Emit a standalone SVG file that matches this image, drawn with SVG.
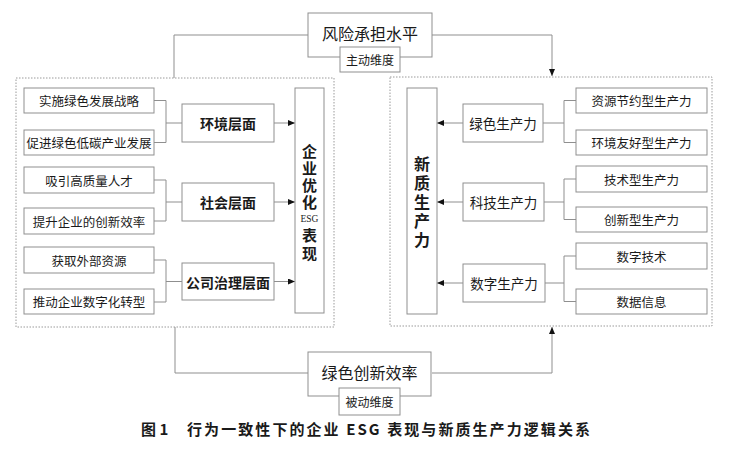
<svg xmlns="http://www.w3.org/2000/svg" width="730" height="460" viewBox="0 0 730 460">
<defs>
<style>
.box{fill:#fff;stroke:#8f8f8f;stroke-width:1}
.cont{fill:none;stroke:#9a9a9a;stroke-width:1;stroke-dasharray:1.5 1.5}
.ln{fill:none;stroke:#8f8f8f;stroke-width:1}
.t{font-family:"Noto Sans CJK SC","Liberation Sans",sans-serif;fill:#1a1a1a;text-anchor:middle;dominant-baseline:central}
.s{font-size:12.5px}
.m{font-size:13.5px}
.b{font-size:14px;font-weight:bold}
.big{font-size:16px}
.vt{font-family:"Noto Sans CJK SC","Liberation Sans",sans-serif;fill:#1a1a1a;font-weight:bold;writing-mode:vertical-rl;text-anchor:start;dominant-baseline:central}
.esg{font-family:"Liberation Serif",serif;font-size:9.5px;fill:#1a1a1a;text-anchor:middle;dominant-baseline:central}
.cap{font-family:"Noto Sans CJK SC","Liberation Sans",sans-serif;font-size:15px;font-weight:bold;fill:#1a1a1a}
</style>
<marker id="ah" markerWidth="7" markerHeight="6" refX="7" refY="3" orient="auto" markerUnits="userSpaceOnUse">
<path d="M0,0 L7,3 L0,6 Z" fill="#111"/>
</marker>
</defs>
<rect width="730" height="460" fill="#fff"/>

<g id="containers">
<rect class="cont" x="16" y="78" width="318" height="249"/>
<rect class="cont" x="390" y="77" width="322" height="249"/>
</g>

<g id="connectors">
<polyline class="ln" points="308,35 174,35 174,78"/>
<polyline class="ln" points="432,35 552,35 552,76" marker-end="url(#ah)"/>
<polyline class="ln" points="175,327 175,373 308,373"/>
<polyline class="ln" points="432,373 552,373 552,327" marker-end="url(#ah)"/>
<polyline class="ln" points="154,100.5 166,100.5 166,142.5 154,142.5"/>
<line class="ln" x1="166" y1="123" x2="182" y2="123"/>
<polyline class="ln" points="154,180 166,180 166,221 154,221"/>
<line class="ln" x1="166" y1="202" x2="182" y2="202"/>
<polyline class="ln" points="154,260 166,260 166,302 154,302"/>
<line class="ln" x1="166" y1="281.5" x2="182" y2="281.5"/>
<line class="ln" x1="274" y1="123" x2="295" y2="123" marker-end="url(#ah)"/>
<line class="ln" x1="274" y1="202" x2="295" y2="202" marker-end="url(#ah)"/>
<line class="ln" x1="274" y1="281.5" x2="295" y2="281.5" marker-end="url(#ah)"/>
<polyline class="ln" points="576,100.5 564,100.5 564,142.5 576,142.5"/>
<line class="ln" x1="543" y1="123" x2="564" y2="123"/>
<polyline class="ln" points="576,179 564,179 564,219.5 576,219.5"/>
<line class="ln" x1="543" y1="202" x2="564" y2="202"/>
<polyline class="ln" points="576,256 564,256 564,301.5 576,301.5"/>
<line class="ln" x1="543" y1="283" x2="564" y2="283"/>
<line class="ln" x1="463" y1="123" x2="437" y2="123" marker-end="url(#ah)"/>
<line class="ln" x1="463" y1="202" x2="437" y2="202" marker-end="url(#ah)"/>
<line class="ln" x1="463" y1="283" x2="437" y2="283" marker-end="url(#ah)"/>
</g>

<g id="risk">
<rect class="box" x="308" y="13" width="124" height="44"/>
<text class="t big" x="370" y="33">风险承担水平</text>
<rect class="box" x="340" y="47" width="60" height="25"/>
<text class="t" style="font-size:12px" x="370" y="59.5">主动维度</text>
</g>

<g id="green-innov">
<rect class="box" x="308" y="352" width="123" height="44"/>
<text class="t big" x="369.5" y="372">绿色创新效率</text>
<rect class="box" x="339" y="388" width="61" height="27"/>
<text class="t" style="font-size:12px" x="369.5" y="401.5">被动维度</text>
</g>

<g id="l1"><rect class="box" x="24" y="88" width="130" height="25"/><text class="t s" x="89" y="100.5">实施绿色发展战略</text></g>
<g id="l2"><rect class="box" x="24" y="130" width="130" height="25"/><text class="t s" x="89" y="142.5">促进绿色低碳产业发展</text></g>
<g id="l3"><rect class="box" x="24" y="167" width="130" height="26"/><text class="t s" x="89" y="180">吸引高质量人才</text></g>
<g id="l4"><rect class="box" x="24" y="208" width="130" height="26"/><text class="t s" x="89" y="221">提升企业的创新效率</text></g>
<g id="l5"><rect class="box" x="24" y="247" width="130" height="26"/><text class="t s" x="89" y="260">获取外部资源</text></g>
<g id="l6"><rect class="box" x="24" y="289" width="130" height="25"/><text class="t s" x="89" y="301.5">推动企业数字化转型</text></g>

<g id="env"><rect class="box" x="182" y="104" width="92" height="38"/><text class="t b" x="228" y="123">环境层面</text></g>
<g id="soc"><rect class="box" x="182" y="183" width="92" height="38"/><text class="t b" x="228" y="202">社会层面</text></g>
<g id="gov"><rect class="box" x="182" y="263" width="92" height="37"/><text class="t b" x="228" y="281.5">公司治理层面</text></g>

<g id="esg">
<rect class="box" x="295" y="88" width="29" height="225"/>
<text class="vt" x="309.5" y="143.5" style="font-size:15px;letter-spacing:2px">企业优化</text>
<text class="esg" x="309.5" y="218.5">ESG</text>
<text class="vt" x="309.5" y="227.5" style="font-size:15px;letter-spacing:3px">表现</text>
</g>

<g id="nqp">
<rect class="box" x="407" y="88" width="30" height="226"/>
<text class="vt" x="422" y="156" style="font-size:16px;letter-spacing:3px">新质生产力</text>
</g>

<g id="gp"><rect class="box" x="463" y="104" width="80" height="38"/><text class="t m" x="503" y="123">绿色生产力</text></g>
<g id="tp"><rect class="box" x="463" y="183" width="81" height="38"/><text class="t m" x="503.5" y="202">科技生产力</text></g>
<g id="dp"><rect class="box" x="463" y="264" width="82" height="38"/><text class="t m" x="504" y="283">数字生产力</text></g>

<g id="r1"><rect class="box" x="576" y="88" width="131" height="25"/><text class="t s" x="641.5" y="100.5">资源节约型生产力</text></g>
<g id="r2"><rect class="box" x="576" y="130" width="131" height="25"/><text class="t s" x="641.5" y="142.5">环境友好型生产力</text></g>
<g id="r3"><rect class="box" x="576" y="166" width="131" height="26"/><text class="t s" x="641.5" y="179">技术型生产力</text></g>
<g id="r4"><rect class="box" x="576" y="207" width="131" height="25"/><text class="t s" x="641.5" y="219.5">创新型生产力</text></g>
<g id="r5"><rect class="box" x="576" y="243" width="131" height="26"/><text class="t s" x="641.5" y="256">数字技术</text></g>
<g id="r6"><rect class="box" x="576" y="289" width="131" height="25"/><text class="t s" x="641.5" y="301.5">数据信息</text></g>

<g id="caption">
<text class="cap" x="141" y="435">图 1</text>
<text class="cap" x="187" y="435" textLength="403" lengthAdjust="spacing">行为一致性下的企业 ESG 表现与新质生产力逻辑关系</text>
</g>
</svg>
